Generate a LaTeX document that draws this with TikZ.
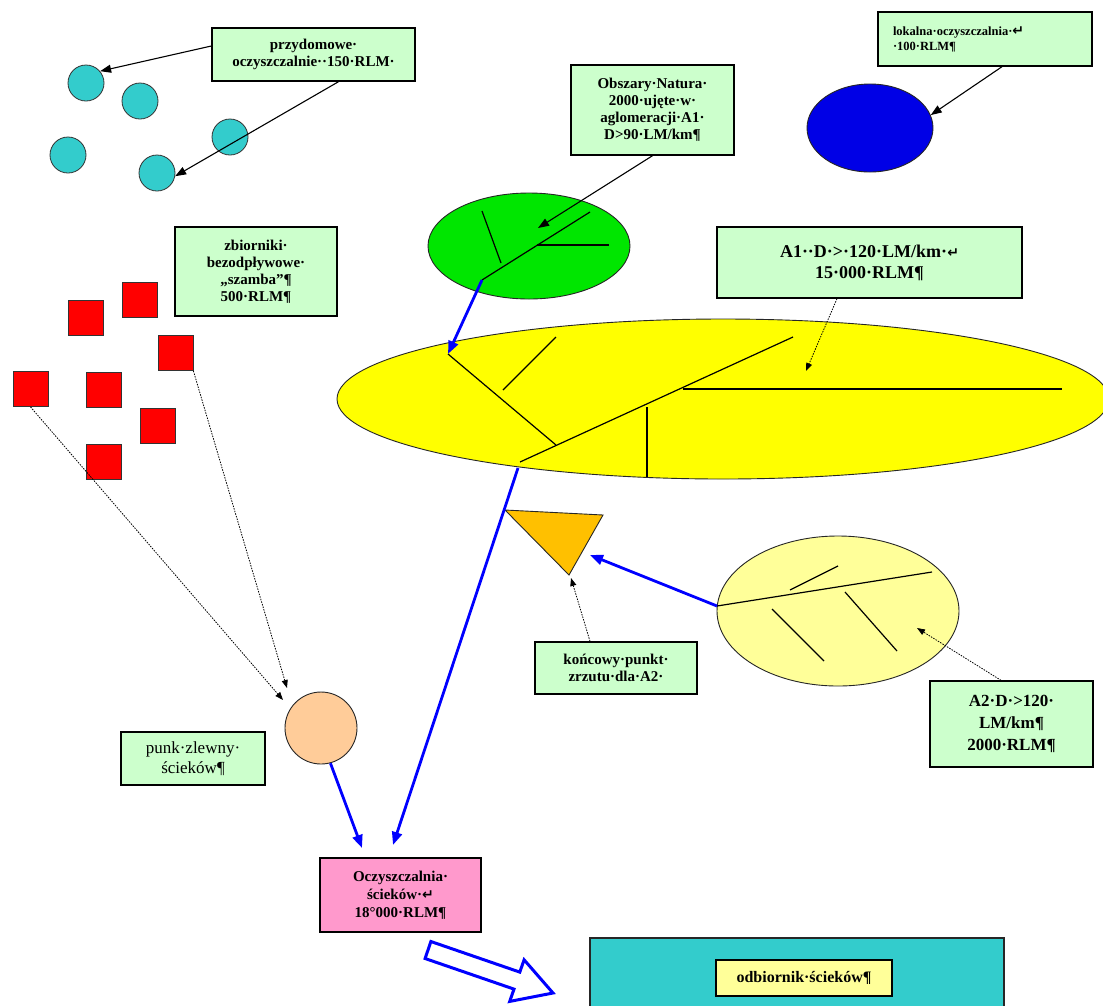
\documentclass[tikz,border=0pt]{standalone}
\usepackage{fontspec}
\setmainfont{Liberation Serif}
\newfontfamily\symf{DejaVu Sans}
\usetikzlibrary{shapes.geometric,arrows.meta,calc}
\definecolor{boxg}{HTML}{CCFFCC}
\definecolor{cyanF}{HTML}{33CCCC}
\definecolor{redF}{HTML}{FF0000}
\definecolor{blueE}{HTML}{0000E6}
\definecolor{greenE}{HTML}{00E600}
\definecolor{yellowE}{HTML}{FFFF00}
\definecolor{lyellow}{HTML}{FFFF99}
\definecolor{peachF}{HTML}{FFCC99}
\definecolor{pinkF}{HTML}{FF99CC}
\definecolor{orangeT}{HTML}{FFC000}
\definecolor{arrBlue}{HTML}{0000FF}
\newcommand{\retm}{{\symf\bfseries\fontsize{14}{14}\selectfont ↵}}
\begin{document}
\begin{tikzpicture}[x=1pt,y=-1pt,
  lbl/.style={draw=black, line width=1.4pt, fill=boxg, align=center, inner sep=0pt,
    font=\bfseries\fontsize{15}{17}\selectfont},
  cyanc/.style={circle, draw=black!80, line width=0.8pt, fill=cyanF, minimum size=36pt, inner sep=0pt},
  redsq/.style={rectangle, draw=black!80, line width=0.8pt, fill=redF, minimum size=35pt, inner sep=0pt},
  ell/.style={ellipse, draw=black!85, line width=0.9pt, inner sep=0pt},
  ln/.style={draw=black, line width=1.2pt},
  blkarr/.style={draw=black, line width=1.1pt, -{Triangle[length=11pt,width=8pt]}},
  bluearr/.style={draw=arrBlue, line width=2.8pt, -{Triangle[length=13pt,width=10pt]}},
  dotarr/.style={draw=black, line width=0.8pt, dash pattern=on 1.5pt off 1.2pt, -{Triangle[length=8pt,width=6pt]}}
]
\useasboundingbox (0,0) rectangle (1103,1005);
\fill[white] (0,0) rectangle (1103,1005);

% cyan circles
\foreach \n/\x/\y in {c1/86/83, c2/140/101, c3/230/137, c4/68/155, c5/157/173}
  \node[cyanc] (\n) at (\x,\y) {};

% red squares
\foreach \n/\x/\y in {sa/85.5/317.5, sb/139.5/299.5, sc/175.5/353, sd/30.5/389, se/103.5/389.5, sf/157.5/425.5, sg/103.5/461.5}
  \node[redsq] (\n) at (\x,\y) {};

% ellipses
\node[ell, fill=blueE, minimum width=126pt, minimum height=88pt] (blueel) at (870,128) {};
\node[ell, fill=greenE, minimum width=202pt, minimum height=106pt] (green) at (529,246) {};
\node[ell, fill=yellowE, minimum width=772pt, minimum height=160pt] (yellow) at (723,399) {};
\node[ell, fill=lyellow, minimum width=242pt, minimum height=150pt] (ly) at (838,611) {};
\node[circle, draw=black!85, line width=0.9pt, fill=peachF, minimum size=72pt, inner sep=0pt] (peach) at (321,728) {};

% lines in green
\draw[ln] (482,280) -- (590,212);
\draw[ln] (482,211) -- (501,263);
\draw[ln] (537,245) -- (609,245);
% lines in yellow
\draw[ln] (520,462) -- (793,337);
\draw[ln] (448,354) -- (556,445);
\draw[ln] (503,390) -- (556,337);
\draw[ln] (683,389) -- (1062,389);
\draw[ln] (647,407) -- (647,477);
% lines in light yellow
\draw[ln] (717,606) -- (932,572);
\draw[ln] (790,590) -- (838,566);
\draw[ln] (772,609) -- (824,661);
\draw[ln] (845,592) -- (897,651);

% triangle
\draw[draw=black!85, line width=0.9pt, fill=orangeT] (505,510) -- (603,515) -- (569,575) -- cycle;

% coordinates
\coordinate (gt) at (538,228);
\coordinate (g1) at (482,280);
\coordinate (y1) at (448,354);
\coordinate (y2) at (518,468);
\coordinate (yt) at (806,371);
\coordinate (ly1) at (717,606);
\coordinate (lyt) at (917,628);
\coordinate (triR) at (590,555);
\coordinate (triB) at (571,578);
\coordinate (pk1) at (283,700);
\coordinate (pk2) at (287,688);
\coordinate (oc1) at (393,845);
\coordinate (oc2) at (362,848);

% boxes
\node[lbl, minimum width=203pt, minimum height=53pt] (b1) at (313.5,54.5) {przydomowe·\\oczyszczalnie··150·RLM·};
\node[lbl, minimum height=54pt, text width=184pt, inner xsep=15pt, align=left,
  font=\bfseries\fontsize{12.5}{15}\selectfont] (b2) at (985,39) {lokalna·oczyszczalnia·\retm\\·100·RLM¶};
\node[lbl, minimum width=163pt, minimum height=90pt] (b3) at (652.5,110) {Obszary·Natura·\\2000·ujęte·w·\\aglomeracji·A1·\\D>90·LM/km¶};
\node[lbl, minimum width=162pt, minimum height=89pt] (b4) at (256,271.5) {zbiorniki·\\bezodpływowe·\\„szamba”¶\\500·RLM¶};
\node[lbl, minimum width=305pt, minimum height=71pt, font=\bfseries\fontsize{18}{21}\selectfont] (b5) at (869.5,262.5) {A1··D·>·120·LM/km·\retm\\15·000·RLM¶};
\node[lbl, minimum width=162pt, minimum height=52pt] (b6) at (616,668) {końcowy·punkt·\\zrzutu·dla·A2·};
\node[lbl, minimum width=163pt, minimum height=86pt, font=\bfseries\fontsize{17}{22}\selectfont] (b7) at (1011.5,724) {A2·D·>120·\\LM/km¶\\2000·RLM¶};
\node[lbl, minimum width=144pt, minimum height=53pt, font=\fontsize{17}{20}\selectfont] (b8) at (193,758.5) {punk·zlewny·\\ścieków¶};
\node[lbl, fill=pinkF, minimum width=161pt, minimum height=74pt, font=\bfseries\fontsize{15}{18}\selectfont] (b9) at (400.5,895) {Oczyszczalnia·\\ścieków·\retm\\18°000·RLM¶};
\node[draw=black!85, line width=1.4pt, fill=cyanF, minimum width=414pt, minimum height=90pt, inner sep=0pt] (b10) at (797,983) {};
\node[lbl, fill=lyellow, minimum width=176pt, minimum height=36pt, font=\bfseries\fontsize{16}{18}\selectfont] (b11) at (804,978) {odbiornik·ścieków¶};

% black arrows
\draw[blkarr] ($(b1.west)+(0,-8.5)$) -- (c1.40);
\draw[blkarr] ($(b1.south)+(25,0)$) -- (c5.-10);
\draw[blkarr] ($(b2.south)+(17,0)$) -- (blueel.12);
\draw[blkarr] (b3.south) -- (gt);

% blue arrows
\draw[bluearr] (g1) -- (y1);
\draw[bluearr] (y2) -- (oc1);
\draw[bluearr] (peach.-75) -- (oc2);
\draw[bluearr] (ly1) -- (triR);

% dotted arrows
\draw[dotarr] ($(b5.south)+(-32.5,0)$) -- (yt);
\draw[dotarr] ($(b7.north)+(-10.5,0)$) -- (lyt);
\draw[dotarr] ($(b6.north)+(-26,0)$) -- (triB);
\draw[dotarr] (sd.south) -- (pk1);
\draw[dotarr] (sc.south east) -- (pk2);

% block arrow from treatment plant to receiver
\draw[draw=arrBlue, line width=3pt, fill=white, line join=miter]
  (430.9,941.5) -- (519.8,972.1) -- (524.1,959.8) -- (553,993) -- (509.7,1001.4) -- (514.0,989.1) -- (425.1,958.5) -- cycle;
\end{tikzpicture}
\end{document}
